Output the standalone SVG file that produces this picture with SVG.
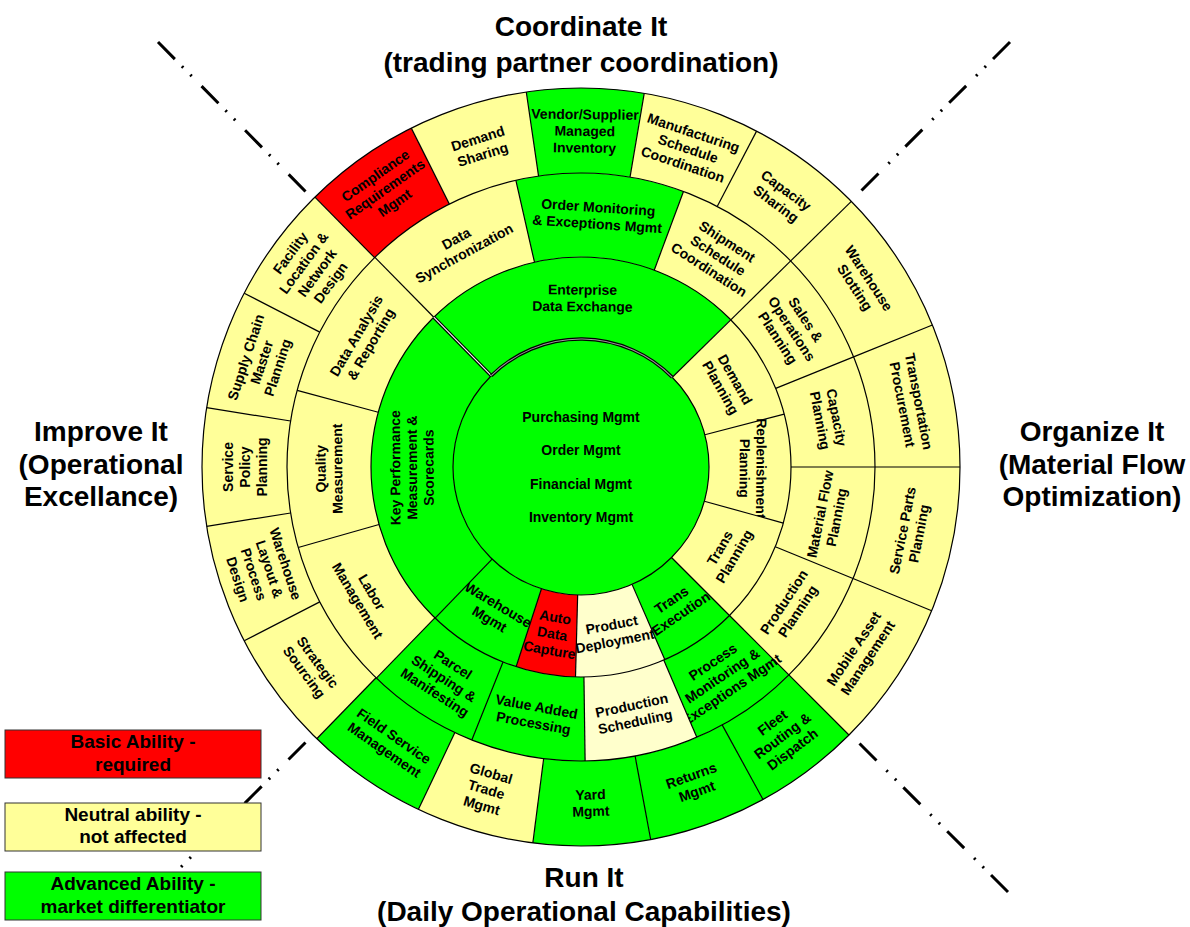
<svg xmlns="http://www.w3.org/2000/svg" width="1190" height="927" viewBox="0 0 1190 927">
<style>
text{font-family:"Liberation Sans",Arial,Helvetica,sans-serif;font-weight:bold;fill:#000;text-anchor:middle}
.head{font-size:28px}
.leg{font-size:19px}
.t4{font-size:14px}
.t3{font-size:14px}
.t2{font-size:14px}
.tc{font-size:14px}
.s4,.s3,.s2{fill:none}
.s4{stroke-width:85}
.s3{stroke-width:84}
.s2{stroke-width:82}
.Y{stroke:#FFFF99}
.P{stroke:#FFFFCC}
.G{stroke:#00FF00}
.R{stroke:#FF0000}
.ring{fill:none;stroke:#000;stroke-width:1.2}
.div{stroke:#000;stroke-width:1.2}
.axis{fill:none;stroke:#000;stroke-width:3;stroke-dasharray:24 10 2 10 2 14}
.box{stroke:#333;stroke-width:1}
</style>
<rect width="1190" height="927" fill="#fff"/>
<g id="axes">
<line class="axis" x1="158" y1="42" x2="309" y2="195"/>
<line class="axis" x1="1010" y1="42" x2="858" y2="194"/>
<line class="axis" x1="1008" y1="892" x2="858" y2="742"/>
<line class="axis" x1="157" y1="891" x2="309" y2="739"/>
</g>
<g id="headings">
<g id="coordinate-it"><text class="head" x="581" y="36">Coordinate It</text><text class="head" x="581" y="72">(trading partner coordination)</text></g>
<g id="improve-it"><text class="head" x="101" y="441">Improve It</text><text class="head" x="101" y="474">(Operational</text><text class="head" x="101" y="506">Excellance)</text></g>
<g id="organize-it"><text class="head" x="1092" y="441">Organize It</text><text class="head" x="1092" y="474">(Material Flow</text><text class="head" x="1092" y="506">Optimization)</text></g>
<g id="run-it"><text class="head" x="584" y="887">Run It</text><text class="head" x="584" y="921">(Daily Operational Capabilities)</text></g>
</g>
<g id="wheel" transform="translate(581 467)">
<!-- outer ring -->
<g id="compliance-requirements-mgmt"><circle class="s4 R" r="336.5" pathLength="360" stroke-dasharray="18 342" transform="rotate(-134.6)"/><text class="t4" transform="rotate(-125.2) translate(340 0) rotate(90)"><tspan x="0" y="-11.8">Compliance</tspan><tspan x="0" y="4.9">Requirements</tspan><tspan x="0" y="21.6">Mgmt</tspan></text></g>
<g id="demand-sharing"><circle class="s4 Y" r="336.5" pathLength="360" stroke-dasharray="18.3 341.7" transform="rotate(-116.6)"/><text class="t4" transform="rotate(-107.45) translate(336 0) rotate(90)"><tspan x="0" y="-3.4">Demand</tspan><tspan x="0" y="13.3">Sharing</tspan></text></g>
<g id="vendor-managed-inventory"><circle class="s4 G" r="336.5" pathLength="360" stroke-dasharray="17.9 342.1" transform="rotate(-98.3)"/><text class="t4" transform="rotate(-89.35) translate(336 0) rotate(90)"><tspan x="0" y="-11.8">Vendor/Supplier</tspan><tspan x="0" y="4.9">Managed</tspan><tspan x="0" y="21.6">Inventory</tspan></text></g>
<g id="manufacturing-schedule-coordination"><circle class="s4 Y" r="336.5" pathLength="360" stroke-dasharray="18 342" transform="rotate(-80.4)"/><text class="t4" transform="rotate(-71.4) translate(336 0) rotate(90)"><tspan x="0" y="-11.8">Manufacturing</tspan><tspan x="0" y="4.9">Schedule</tspan><tspan x="0" y="21.6">Coordination</tspan></text></g>
<g id="capacity-sharing"><circle class="s4 Y" r="336.5" pathLength="360" stroke-dasharray="17.9 342.1" transform="rotate(-62.4)"/><text class="t4" transform="rotate(-53.45) translate(336 0) rotate(90)"><tspan x="0" y="-3.4">Capacity</tspan><tspan x="0" y="13.3">Sharing</tspan></text></g>
<g id="warehouse-slotting"><circle class="s4 Y" r="336.5" pathLength="360" stroke-dasharray="22.5 337.5" transform="rotate(-44.5)"/><text class="t4" transform="rotate(-33.25) translate(336 0) rotate(90)"><tspan x="0" y="-3.4">Warehouse</tspan><tspan x="0" y="13.3">Slotting</tspan></text></g>
<g id="transportation-procurement"><circle class="s4 Y" r="336.5" pathLength="360" stroke-dasharray="22 338" transform="rotate(-22)"/><text class="t4" transform="rotate(-11) translate(336 0) rotate(90)"><tspan x="0" y="-3.4">Transportation</tspan><tspan x="0" y="13.3">Procurement</tspan></text></g>
<g id="service-parts-planning"><circle class="s4 Y" r="336.5" pathLength="360" stroke-dasharray="22.3 337.7"/><text class="t4" transform="rotate(11.15) translate(336 0) rotate(-90)"><tspan x="0" y="-3.4">Service Parts</tspan><tspan x="0" y="13.3">Planning</tspan></text></g>
<g id="mobile-asset-management"><circle class="s4 Y" r="336.5" pathLength="360" stroke-dasharray="22.7 337.3" transform="rotate(22.3)"/><text class="t4" transform="rotate(33.65) translate(336 0) rotate(-90)"><tspan x="0" y="-3.4">Mobile Asset</tspan><tspan x="0" y="13.3">Management</tspan></text></g>
<g id="fleet-routing-dispatch"><circle class="s4 G" r="336.5" pathLength="360" stroke-dasharray="16.3 343.7" transform="rotate(45)"/><text class="t4" transform="rotate(53.15) translate(336 0) rotate(-90)"><tspan x="0" y="-11.8">Fleet</tspan><tspan x="0" y="4.9">Routing &amp;</tspan><tspan x="0" y="21.6">Dispatch</tspan></text></g>
<g id="returns-mgmt"><circle class="s4 G" r="336.5" pathLength="360" stroke-dasharray="18.1 341.9" transform="rotate(61.3)"/><text class="t4" transform="rotate(70.35) translate(336 0) rotate(-90)"><tspan x="0" y="-3.4">Returns</tspan><tspan x="0" y="13.3">Mgmt</tspan></text></g>
<g id="yard-mgmt"><circle class="s4 G" r="336.5" pathLength="360" stroke-dasharray="17.9 342.1" transform="rotate(79.4)"/><text class="t4" transform="rotate(88.35) translate(336 0) rotate(-90)"><tspan x="0" y="-3.4">Yard</tspan><tspan x="0" y="13.3">Mgmt</tspan></text></g>
<g id="global-trade-mgmt"><circle class="s4 Y" r="336.5" pathLength="360" stroke-dasharray="18.1 341.9" transform="rotate(97.3)"/><text class="t4" transform="rotate(106.35) translate(336 0) rotate(-90)"><tspan x="0" y="-11.8">Global</tspan><tspan x="0" y="4.9">Trade</tspan><tspan x="0" y="21.6">Mgmt</tspan></text></g>
<g id="field-service-management"><circle class="s4 G" r="336.5" pathLength="360" stroke-dasharray="18.8 341.2" transform="rotate(115.4)"/><text class="t4" transform="rotate(124.8) translate(336 0) rotate(-90)"><tspan x="0" y="-3.4">Field Service</tspan><tspan x="0" y="13.3">Management</tspan></text></g>
<g id="strategic-sourcing"><circle class="s4 Y" r="336.5" pathLength="360" stroke-dasharray="18.5 341.5" transform="rotate(134.2)"/><text class="t4" transform="rotate(143.45) translate(336 0) rotate(-90)"><tspan x="0" y="-3.4">Strategic</tspan><tspan x="0" y="13.3">Sourcing</tspan></text></g>
<g id="warehouse-layout-process-design"><circle class="s4 Y" r="336.5" pathLength="360" stroke-dasharray="18.3 341.7" transform="rotate(152.7)"/><text class="t4" transform="rotate(161.85) translate(336 0) rotate(-90)"><tspan x="0" y="-20.1">Warehouse</tspan><tspan x="0" y="-3.4">Layout &amp;</tspan><tspan x="0" y="13.3">Process</tspan><tspan x="0" y="30">Design</tspan></text></g>
<g id="service-policy-planning"><circle class="s4 Y" r="336.5" pathLength="360" stroke-dasharray="18 342" transform="rotate(171)"/><text class="t4" transform="rotate(180) translate(336 0) rotate(90)"><tspan x="0" y="-11.8">Service</tspan><tspan x="0" y="4.9">Policy</tspan><tspan x="0" y="21.6">Planning</tspan></text></g>
<g id="supply-chain-master-planning"><circle class="s4 Y" r="336.5" pathLength="360" stroke-dasharray="18.3 341.7" transform="rotate(189)"/><text class="t4" transform="rotate(198.15) translate(336 0) rotate(90)"><tspan x="0" y="-11.8">Supply Chain</tspan><tspan x="0" y="4.9">Master</tspan><tspan x="0" y="21.6">Planning</tspan></text></g>
<g id="facility-location-network-design"><circle class="s4 Y" r="336.5" pathLength="360" stroke-dasharray="18.1 341.9" transform="rotate(207.3)"/><text class="t4" transform="rotate(216.35) translate(336 0) rotate(90)"><tspan x="0" y="-20.1">Facility</tspan><tspan x="0" y="-3.4">Location &amp;</tspan><tspan x="0" y="13.3">Network</tspan><tspan x="0" y="30">Design</tspan></text></g>
<!-- middle ring -->
<g id="data-synchronization"><circle class="s3 Y" r="252" pathLength="360" stroke-dasharray="31.7 328.3" transform="rotate(-134.5)"/><text class="t3" transform="rotate(-118.65) translate(252 0) rotate(90)"><tspan x="0" y="-3.4">Data</tspan><tspan x="0" y="13.3">Synchronization</tspan></text></g>
<g id="order-monitoring-exceptions"><circle class="s3 G" r="252" pathLength="360" stroke-dasharray="33.2 326.8" transform="rotate(-102.8)"/><text class="t3" transform="rotate(-86.2) translate(252 0) rotate(90)"><tspan x="0" y="-3.4">Order Monitoring</tspan><tspan x="0" y="13.3">&amp; Exceptions Mgmt</tspan></text></g>
<g id="shipment-schedule-coordination"><circle class="s3 Y" r="252" pathLength="360" stroke-dasharray="25.1 334.9" transform="rotate(-69.6)"/><text class="t3" transform="rotate(-57.05) translate(252 0) rotate(90)"><tspan x="0" y="-11.8">Shipment</tspan><tspan x="0" y="4.9">Schedule</tspan><tspan x="0" y="21.6">Coordination</tspan></text></g>
<g id="sales-operations-planning"><circle class="s3 Y" r="252" pathLength="360" stroke-dasharray="22.5 337.5" transform="rotate(-44.5)"/><text class="t3" transform="rotate(-33.25) translate(252 0) rotate(90)"><tspan x="0" y="-11.8">Sales &amp;</tspan><tspan x="0" y="4.9">Operations</tspan><tspan x="0" y="21.6">Planning</tspan></text></g>
<g id="capacity-planning"><circle class="s3 Y" r="252" pathLength="360" stroke-dasharray="22 338" transform="rotate(-22)"/><text class="t3" transform="rotate(-11) translate(252 0) rotate(90)"><tspan x="0" y="-3.4">Capacity</tspan><tspan x="0" y="13.3">Planning</tspan></text></g>
<g id="material-flow-planning"><circle class="s3 Y" r="252" pathLength="360" stroke-dasharray="22.3 337.7"/><text class="t3" transform="rotate(11.15) translate(252 0) rotate(-90)"><tspan x="0" y="-3.4">Material Flow</tspan><tspan x="0" y="13.3">Planning</tspan></text></g>
<g id="production-planning"><circle class="s3 Y" r="252" pathLength="360" stroke-dasharray="22.7 337.3" transform="rotate(22.3)"/><text class="t3" transform="rotate(33.65) translate(252 0) rotate(-90)"><tspan x="0" y="-3.4">Production</tspan><tspan x="0" y="13.3">Planning</tspan></text></g>
<g id="process-monitoring-exceptions"><circle class="s3 G" r="252" pathLength="360" stroke-dasharray="21.8 338.2" transform="rotate(45)"/><text class="t3" transform="rotate(55.9) translate(252 0) rotate(-90)"><tspan x="0" y="-11.8">Process</tspan><tspan x="0" y="4.9">Monitoring &amp;</tspan><tspan x="0" y="21.6">Exceptions Mgmt</tspan></text></g>
<g id="production-scheduling"><circle class="s3 P" r="252" pathLength="360" stroke-dasharray="22.4 337.6" transform="rotate(66.8)"/><text class="t3" transform="rotate(78) translate(252 0) rotate(-90)"><tspan x="0" y="-3.4">Production</tspan><tspan x="0" y="13.3">Scheduling</tspan></text></g>
<g id="value-added-processing"><circle class="s3 G" r="252" pathLength="360" stroke-dasharray="22.6 337.4" transform="rotate(89.2)"/><text class="t3" transform="rotate(100.5) translate(252 0) rotate(-90)"><tspan x="0" y="-3.4">Value Added</tspan><tspan x="0" y="13.3">Processing</tspan></text></g>
<g id="parcel-shipping-manifesting"><circle class="s3 G" r="252" pathLength="360" stroke-dasharray="22.3 337.7" transform="rotate(111.8)"/><text class="t3" transform="rotate(122.95) translate(252 0) rotate(-90)"><tspan x="0" y="-11.8">Parcel</tspan><tspan x="0" y="4.9">Shipping &amp;</tspan><tspan x="0" y="21.6">Manifesting</tspan></text></g>
<g id="labor-management"><circle class="s3 Y" r="252" pathLength="360" stroke-dasharray="30 330" transform="rotate(134.1)"/><text class="t3" transform="rotate(149.1) translate(252 0) rotate(-90)"><tspan x="0" y="-3.4">Labor</tspan><tspan x="0" y="13.3">Management</tspan></text></g>
<g id="quality-measurement"><circle class="s3 Y" r="252" pathLength="360" stroke-dasharray="31 329" transform="rotate(164.1)"/><text class="t3" transform="rotate(179.6) translate(252 0) rotate(90)"><tspan x="0" y="-3.4">Quality</tspan><tspan x="0" y="13.3">Measurement</tspan></text></g>
<g id="data-analysis-reporting"><circle class="s3 Y" r="252" pathLength="360" stroke-dasharray="30.4 329.6" transform="rotate(195.1)"/><text class="t3" transform="rotate(210.3) translate(252 0) rotate(90)"><tspan x="0" y="-3.4">Data Analysis</tspan><tspan x="0" y="13.3">&amp; Reporting</tspan></text></g>
<!-- inner ring -->
<g id="enterprise-data-exchange"><circle class="s2 G" r="169" pathLength="360" stroke-dasharray="90 270" transform="rotate(-134.5)"/><text class="t2" transform="rotate(-89.5) translate(169 0) rotate(90)"><tspan x="0" y="-3.4">Enterprise</tspan><tspan x="0" y="13.3">Data Exchange</tspan></text></g>
<g id="demand-planning"><circle class="s2 Y" r="169" pathLength="360" stroke-dasharray="29.9 330.1" transform="rotate(-44.5)"/><text class="t2" transform="rotate(-29.55) translate(169 0) rotate(90)"><tspan x="0" y="-3.4">Demand</tspan><tspan x="0" y="13.3">Planning</tspan></text></g>
<g id="replenishment-planning"><circle class="s2 Y" r="169" pathLength="360" stroke-dasharray="30.1 329.9" transform="rotate(-14.6)"/><text class="t2" transform="rotate(0.45) translate(172 0) rotate(90)"><tspan x="0" y="-3.4">Replenishment</tspan><tspan x="0" y="13.3">Planning</tspan></text></g>
<g id="trans-planning"><circle class="s2 Y" r="169" pathLength="360" stroke-dasharray="29.5 330.5" transform="rotate(15.5)"/><text class="t2" transform="rotate(30.25) translate(169 0) rotate(-90)"><tspan x="0" y="-3.4">Trans</tspan><tspan x="0" y="13.3">Planning</tspan></text></g>
<g id="trans-execution"><circle class="s2 G" r="169" pathLength="360" stroke-dasharray="21.5 338.5" transform="rotate(45)"/><text class="t2" transform="rotate(55.75) translate(169 0) rotate(-90)"><tspan x="0" y="-3.4">Trans</tspan><tspan x="0" y="13.3">Execution</tspan></text></g>
<g id="product-deployment"><circle class="s2 P" r="169" pathLength="360" stroke-dasharray="25 335" transform="rotate(66.5)"/><text class="t2" transform="rotate(79) translate(169 0) rotate(-90)"><tspan x="0" y="-3.4">Product</tspan><tspan x="0" y="13.3">Deployment</tspan></text></g>
<g id="auto-data-capture"><circle class="s2 R" r="169" pathLength="360" stroke-dasharray="16.5 343.5" transform="rotate(91.5)"/><text class="t2" transform="rotate(99.75) translate(169 0) rotate(-90)"><tspan x="0" y="-11.8">Auto</tspan><tspan x="0" y="4.9">Data</tspan><tspan x="0" y="21.6">Capture</tspan></text></g>
<g id="warehouse-mgmt"><circle class="s2 G" r="169" pathLength="360" stroke-dasharray="26 334" transform="rotate(108)"/><text class="t2" transform="rotate(121) translate(169 0) rotate(-90)"><tspan x="0" y="-3.4">Warehouse</tspan><tspan x="0" y="13.3">Mgmt</tspan></text></g>
<g id="key-performance-measurement"><circle class="s2 G" r="169" pathLength="360" stroke-dasharray="91.5 268.5" transform="rotate(134)"/><text class="t2" transform="rotate(179.75) translate(169 0) rotate(90)"><tspan x="0" y="-11.8">Key Performance</tspan><tspan x="0" y="4.9">Measurement &amp;</tspan><tspan x="0" y="21.6">Scorecards</tspan></text></g>
<!-- core -->
<g id="core-management"><circle r="128" fill="#00FF00"/><text class="tc" x="0" y="-45">Purchasing Mgmt</text><text class="tc" x="0" y="-12">Order Mgmt</text><text class="tc" x="0" y="22">Financial Mgmt</text><text class="tc" x="0" y="55">Inventory Mgmt</text></g>
<!-- borders -->
<g id="borders">
<circle class="ring" r="128"/>
<circle class="ring" r="210"/>
<circle class="ring" r="294"/>
<circle class="ring" r="379"/>
<g class="div">
<line x1="294" x2="379" transform="rotate(-134.6)"/>
<line x1="294" x2="379" transform="rotate(-116.6)"/>
<line x1="294" x2="379" transform="rotate(-98.3)"/>
<line x1="294" x2="379" transform="rotate(-80.4)"/>
<line x1="294" x2="379" transform="rotate(-62.4)"/>
<line x1="294" x2="379" transform="rotate(-44.5)"/>
<line x1="294" x2="379" transform="rotate(-22)"/>
<line x1="294" x2="379"/>
<line x1="294" x2="379" transform="rotate(22.3)"/>
<line x1="294" x2="379" transform="rotate(45)"/>
<line x1="294" x2="379" transform="rotate(61.3)"/>
<line x1="294" x2="379" transform="rotate(79.4)"/>
<line x1="294" x2="379" transform="rotate(97.3)"/>
<line x1="294" x2="379" transform="rotate(115.4)"/>
<line x1="294" x2="379" transform="rotate(134.2)"/>
<line x1="294" x2="379" transform="rotate(152.7)"/>
<line x1="294" x2="379" transform="rotate(171)"/>
<line x1="294" x2="379" transform="rotate(189)"/>
<line x1="294" x2="379" transform="rotate(207.3)"/>
<line x1="210" x2="294" transform="rotate(-134.5)"/>
<line x1="210" x2="294" transform="rotate(-102.8)"/>
<line x1="210" x2="294" transform="rotate(-69.6)"/>
<line x1="210" x2="294" transform="rotate(-44.5)"/>
<line x1="210" x2="294" transform="rotate(-22)"/>
<line x1="210" x2="294"/>
<line x1="210" x2="294" transform="rotate(22.3)"/>
<line x1="210" x2="294" transform="rotate(45)"/>
<line x1="210" x2="294" transform="rotate(66.8)"/>
<line x1="210" x2="294" transform="rotate(89.2)"/>
<line x1="210" x2="294" transform="rotate(111.8)"/>
<line x1="210" x2="294" transform="rotate(134.1)"/>
<line x1="210" x2="294" transform="rotate(164.1)"/>
<line x1="210" x2="294" transform="rotate(195.1)"/>
<line x1="128" x2="210" transform="rotate(-44.5)"/>
<line x1="128" x2="210" transform="rotate(-14.6)"/>
<line x1="128" x2="210" transform="rotate(15.5)"/>
<line x1="128" x2="210" transform="rotate(45)"/>
<line x1="128" x2="210" transform="rotate(66.5)"/>
<line x1="128" x2="210" transform="rotate(91.5)"/>
<line x1="128" x2="210" transform="rotate(108)"/>
<line x1="128" x2="210" transform="rotate(134)"/>
</g>
<line x1="128" x2="210" transform="rotate(-134.5)" stroke="#000" stroke-width="3.4"/>
<line x1="128" x2="210" transform="rotate(-134.5)" stroke="#fff" stroke-width="1.1"/>
<circle r="128" fill="none" stroke="#000" stroke-width="3.4" pathLength="360" stroke-dasharray="90 270" transform="rotate(-134.5)"/>
<circle r="128" fill="none" stroke="#999" stroke-width="1" pathLength="360" stroke-dasharray="90 270" transform="rotate(-134.5)"/>
</g>
</g>
<g id="legend">
<g id="legend-basic"><rect class="box" x="5" y="730" width="256" height="48" fill="#FF0000"/><text class="leg" x="133" y="748">Basic Ability -</text><text class="leg" x="133" y="771">required</text></g>
<g id="legend-neutral"><rect class="box" x="5" y="803" width="256" height="48" fill="#FFFF99"/><text class="leg" x="133" y="821">Neutral ability -</text><text class="leg" x="133" y="843">not affected</text></g>
<g id="legend-advanced"><rect class="box" x="5" y="872" width="256" height="48" fill="#00FF00"/><text class="leg" x="133" y="890">Advanced Ability -</text><text class="leg" x="133" y="913">market differentiator</text></g>
</g>
</svg>
